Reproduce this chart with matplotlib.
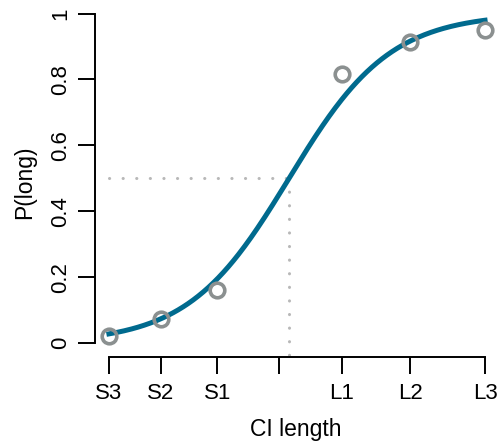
import numpy as np
import matplotlib.pyplot as plt

plt.rcParams['font.family'] = ['Liberation Sans', 'DejaVu Sans']

# CI length conditions (positions on the length axis) and observed P(long)
conds = ["S3", "S2", "S1", "", "L1", "L2", "L3"]
cond_x = [-2.70, -1.88, -0.98, 0.0, 1.0, 2.08, 3.27]
obs_x = [-2.70, -1.88, -0.98, 1.0, 2.08, 3.27]
obs_p = [0.021, 0.073, 0.161, 0.815, 0.914, 0.951]

# logistic fit parameters
x50 = 0.16
slope = 1.245

fig = plt.figure(figsize=(5.02, 4.43), dpi=100)
ax = fig.add_axes([95/502, 1 - 357/443, 402/502, 349/443])

xs = np.linspace(cond_x[0], cond_x[-1], 300)
ax.plot(xs, 1 / (1 + np.exp(-slope * (xs - x50))), color="#006a8e", lw=3.6, zorder=2)
ax.plot(obs_x, obs_p, "o", ms=10.5, mfc="none", mec="#8b9090", mew=2.6, zorder=3)

# threshold guide lines
dots = dict(color="#b8b8b8", lw=2.2, ls=(0, (0.05, 4.4)), dash_capstyle="round", zorder=1)
ax.plot([cond_x[0], x50], [0.5, 0.5], **dots)
ax.plot([x50, x50], [0.5, -0.04], **dots)

ax.set_xlim(-2.921, 3.46)
ax.set_ylim(-0.0425, 1.0167)
ax.set_xticks(cond_x)
ax.set_xticklabels(conds)
ax.set_yticks([0, 0.2, 0.4, 0.6, 0.8, 1])
ax.set_yticklabels(["0", "0.2", "0.4", "0.6", "0.8", "1"], rotation=90, va="center")

for s in ["top", "right"]:
    ax.spines[s].set_visible(False)
ax.spines["left"].set_bounds(0, 1)
ax.spines["bottom"].set_bounds(cond_x[0], cond_x[-1])
for s in ["left", "bottom"]:
    ax.spines[s].set_linewidth(1.4)
ax.tick_params(length=12, width=1.4, labelsize=16, pad=5)
ax.tick_params(axis="x", pad=7)

ax.set_xlabel("CI length", fontsize=16.5, labelpad=10)
ax.set_ylabel("P(long)", fontsize=16.5, labelpad=10)

fig.savefig("out.png", dpi=100)
